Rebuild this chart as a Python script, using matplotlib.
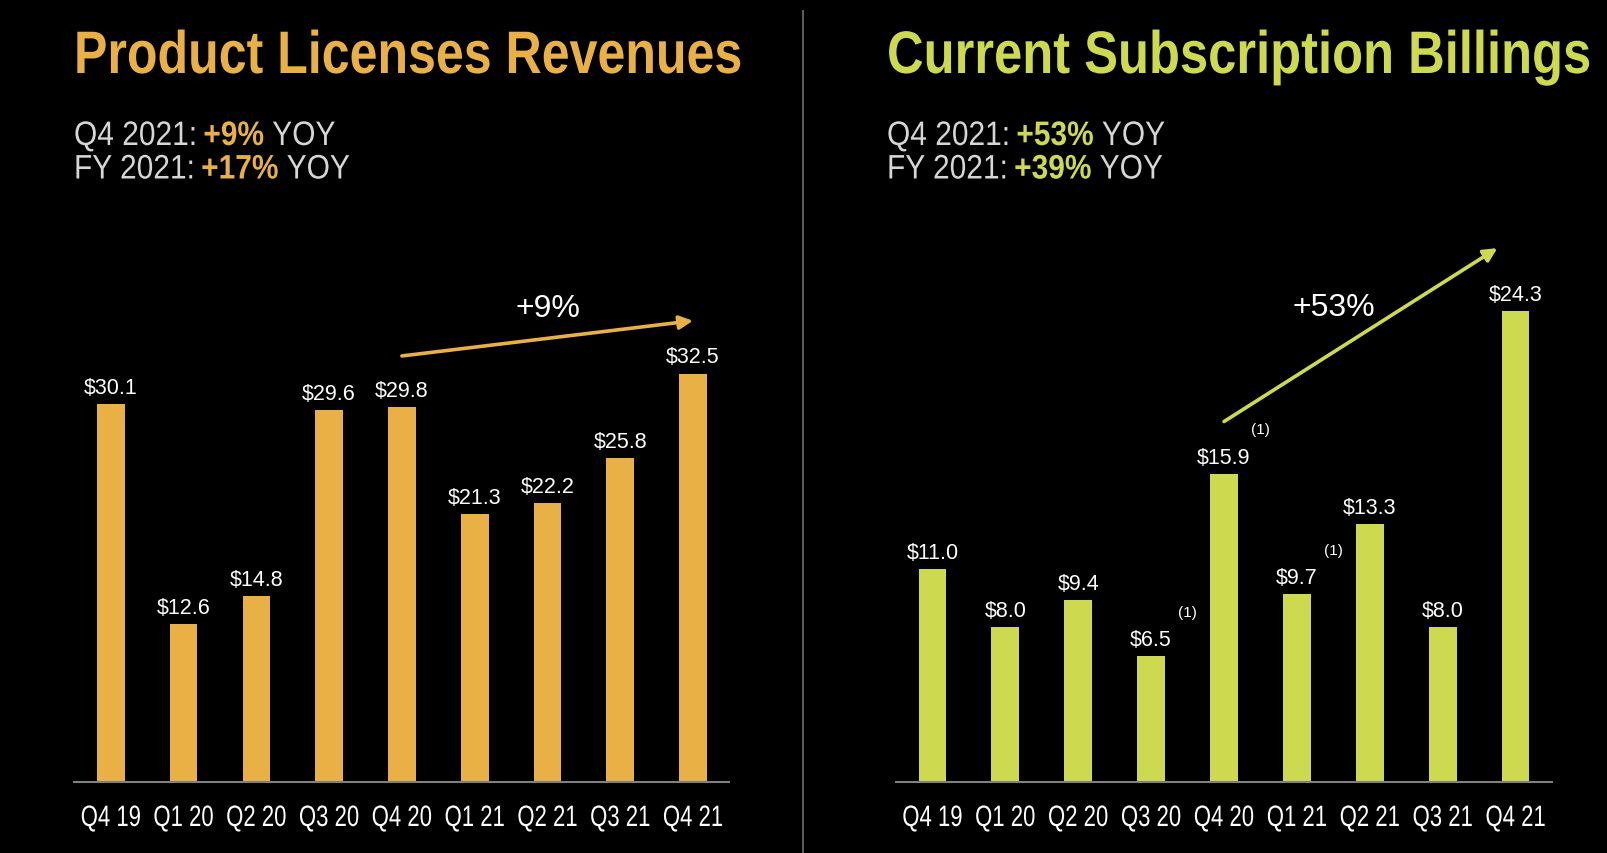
import matplotlib.pyplot as plt
from matplotlib.lines import Line2D
from matplotlib.textpath import TextPath
from matplotlib.patches import PathPatch
from matplotlib.font_manager import FontProperties
from matplotlib.transforms import Affine2D

# data ($M)
quarters = ['Q4 19', 'Q1 20', 'Q2 20', 'Q3 20', 'Q4 20', 'Q1 21', 'Q2 21', 'Q3 21', 'Q4 21']
licenses = [30.1, 12.6, 14.8, 29.6, 29.8, 21.3, 22.2, 25.8, 32.5]
billings = [11.0, 8.0, 9.4, 6.5, 15.9, 9.7, 13.3, 8.0, 24.3]
billings_footnotes = [3, 4, 5]   # bars flagged with (1)

lic_q4_yoy, lic_fy_yoy = '+9%', '+17%'
bil_q4_yoy, bil_fy_yoy = '+53%', '+39%'

ORANGE = '#E9B145'
LIME = '#CDD94E'
GREY_TXT = '#D6D6D6'

plt.rcParams['font.family'] = ['Liberation Sans', 'DejaVu Sans']

W, H = 1608, 854
fig = plt.figure(figsize=(W / 100, H / 100), dpi=100, facecolor='black')


def squeezed(x, y, s, size_px, sx, color, weight='normal', ha='left'):
    """
    The slide uses a narrow font, so draw the text as a path squeezed horizontally.
    x, y are pixels from the bottom-left of the figure (y = baseline)
    returns the x where the ink ends
    """
    fp = FontProperties(family='Liberation Sans', weight=weight)
    path = TextPath((0, 0), s, size=size_px, prop=fp)
    ext = path.get_extents()
    off = 0
    if ha == 'center':
        off = -(ext.x0 + ext.x1) / 2 * sx
    tr = Affine2D().scale(sx, 1).translate(x + off, y)
    fig.add_artist(PathPatch(path, transform=tr, facecolor=color, edgecolor='none', lw=0))
    return x + off + ext.x1 * sx


def yoy_line(x, y, label, pct, color):
    size, sx = 34, 0.88
    gap = 0.30 * size * sx
    x = squeezed(x, y, label, size, sx, GREY_TXT) + gap
    x = squeezed(x, y, pct, size, sx, color, weight='bold') + gap
    squeezed(x, y, 'YOY', size, sx, GREY_TXT)


def bar_panel(rect, values, color, ymax, title, title_sx, q4, fy, title_x, arrow, pct_offset):
    ax = fig.add_axes(rect)
    ax.set_facecolor('black')
    xs = range(len(values))
    ax.bar(xs, values, width=0.38, color=color)
    ax.set_xlim(-0.5, len(values) - 0.5)
    ax.set_ylim(0, ymax)

    # value labels on top of bars
    for i, v in enumerate(values):
        ax.annotate(f'${v:.1f}', (i, v), xytext=(0, 8), textcoords='offset points',
                    ha='center', va='baseline', color='white', fontsize=15.5)

    # growth arrow from Q4 20 to Q4 21
    (i0, lift0), (i1, dx1, lift1) = arrow
    x0, y0 = i0, values[i0] + lift0
    x1, y1 = i1 + dx1, values[i1] + lift1
    ax.annotate('', xy=(x1, y1), xytext=(x0, y0),
                arrowprops=dict(arrowstyle='-|>', color=color, lw=2.6, mutation_scale=20,
                                shrinkA=0, shrinkB=0))
    ax.annotate(q4, ((x0 + x1) / 2, (y0 + y1) / 2), xytext=pct_offset, textcoords='offset points',
                ha='center', va='center', color='white', fontsize=23)

    # axis styling
    for s in ['top', 'left', 'right']:
        ax.spines[s].set_visible(False)
    ax.spines['bottom'].set_color('#808080')
    ax.spines['bottom'].set_linewidth(1.5)
    ax.set_yticks([])
    ax.set_xticks([])

    # quarter labels in the narrow face
    for i, q in enumerate(quarters):
        px = ax.transData.transform((i, 0))[0]
        squeezed(px, 27, q, 29.5, 0.75, 'white', ha='center')

    # title + yoy lines
    squeezed(title_x, H - 74, title, 60, title_sx, color, weight='bold')
    yoy_line(title_x, H - 146, 'Q4 2021:', q4, color)
    yoy_line(title_x, H - 179.5, 'FY 2021:', fy, color)
    return ax


ax1 = bar_panel([0.0463, 0.0831, 0.4073, 0.6623], licenses, ORANGE, 45,
                'Product Licenses Revenues', 0.835, lic_q4_yoy, lic_fy_yoy, 74,
                ((4, 4.1), (8, 0.0, 4.2)), (0, 22))

ax2 = bar_panel([0.5572, 0.0831, 0.4080, 0.6808], billings, LIME, 30,
                'Current Subscription Billings', 0.845, bil_q4_yoy, bil_fy_yoy, 887,
                ((4, 2.7), (8, -0.25, 3.25)), (-19, 20))

# footnote markers
for i in billings_footnotes:
    ax2.annotate('(1)', (i, billings[i]), xytext=(26, 32), textcoords='offset points',
                 ha='center', va='center', color='white', fontsize=11)

# divider between the two panels
fig.add_artist(Line2D([803 / W, 803 / W], [0, 1 - 12 / H], color='#5a5a5a', lw=1.5))

plt.savefig('out.png', dpi=100, facecolor='black')
